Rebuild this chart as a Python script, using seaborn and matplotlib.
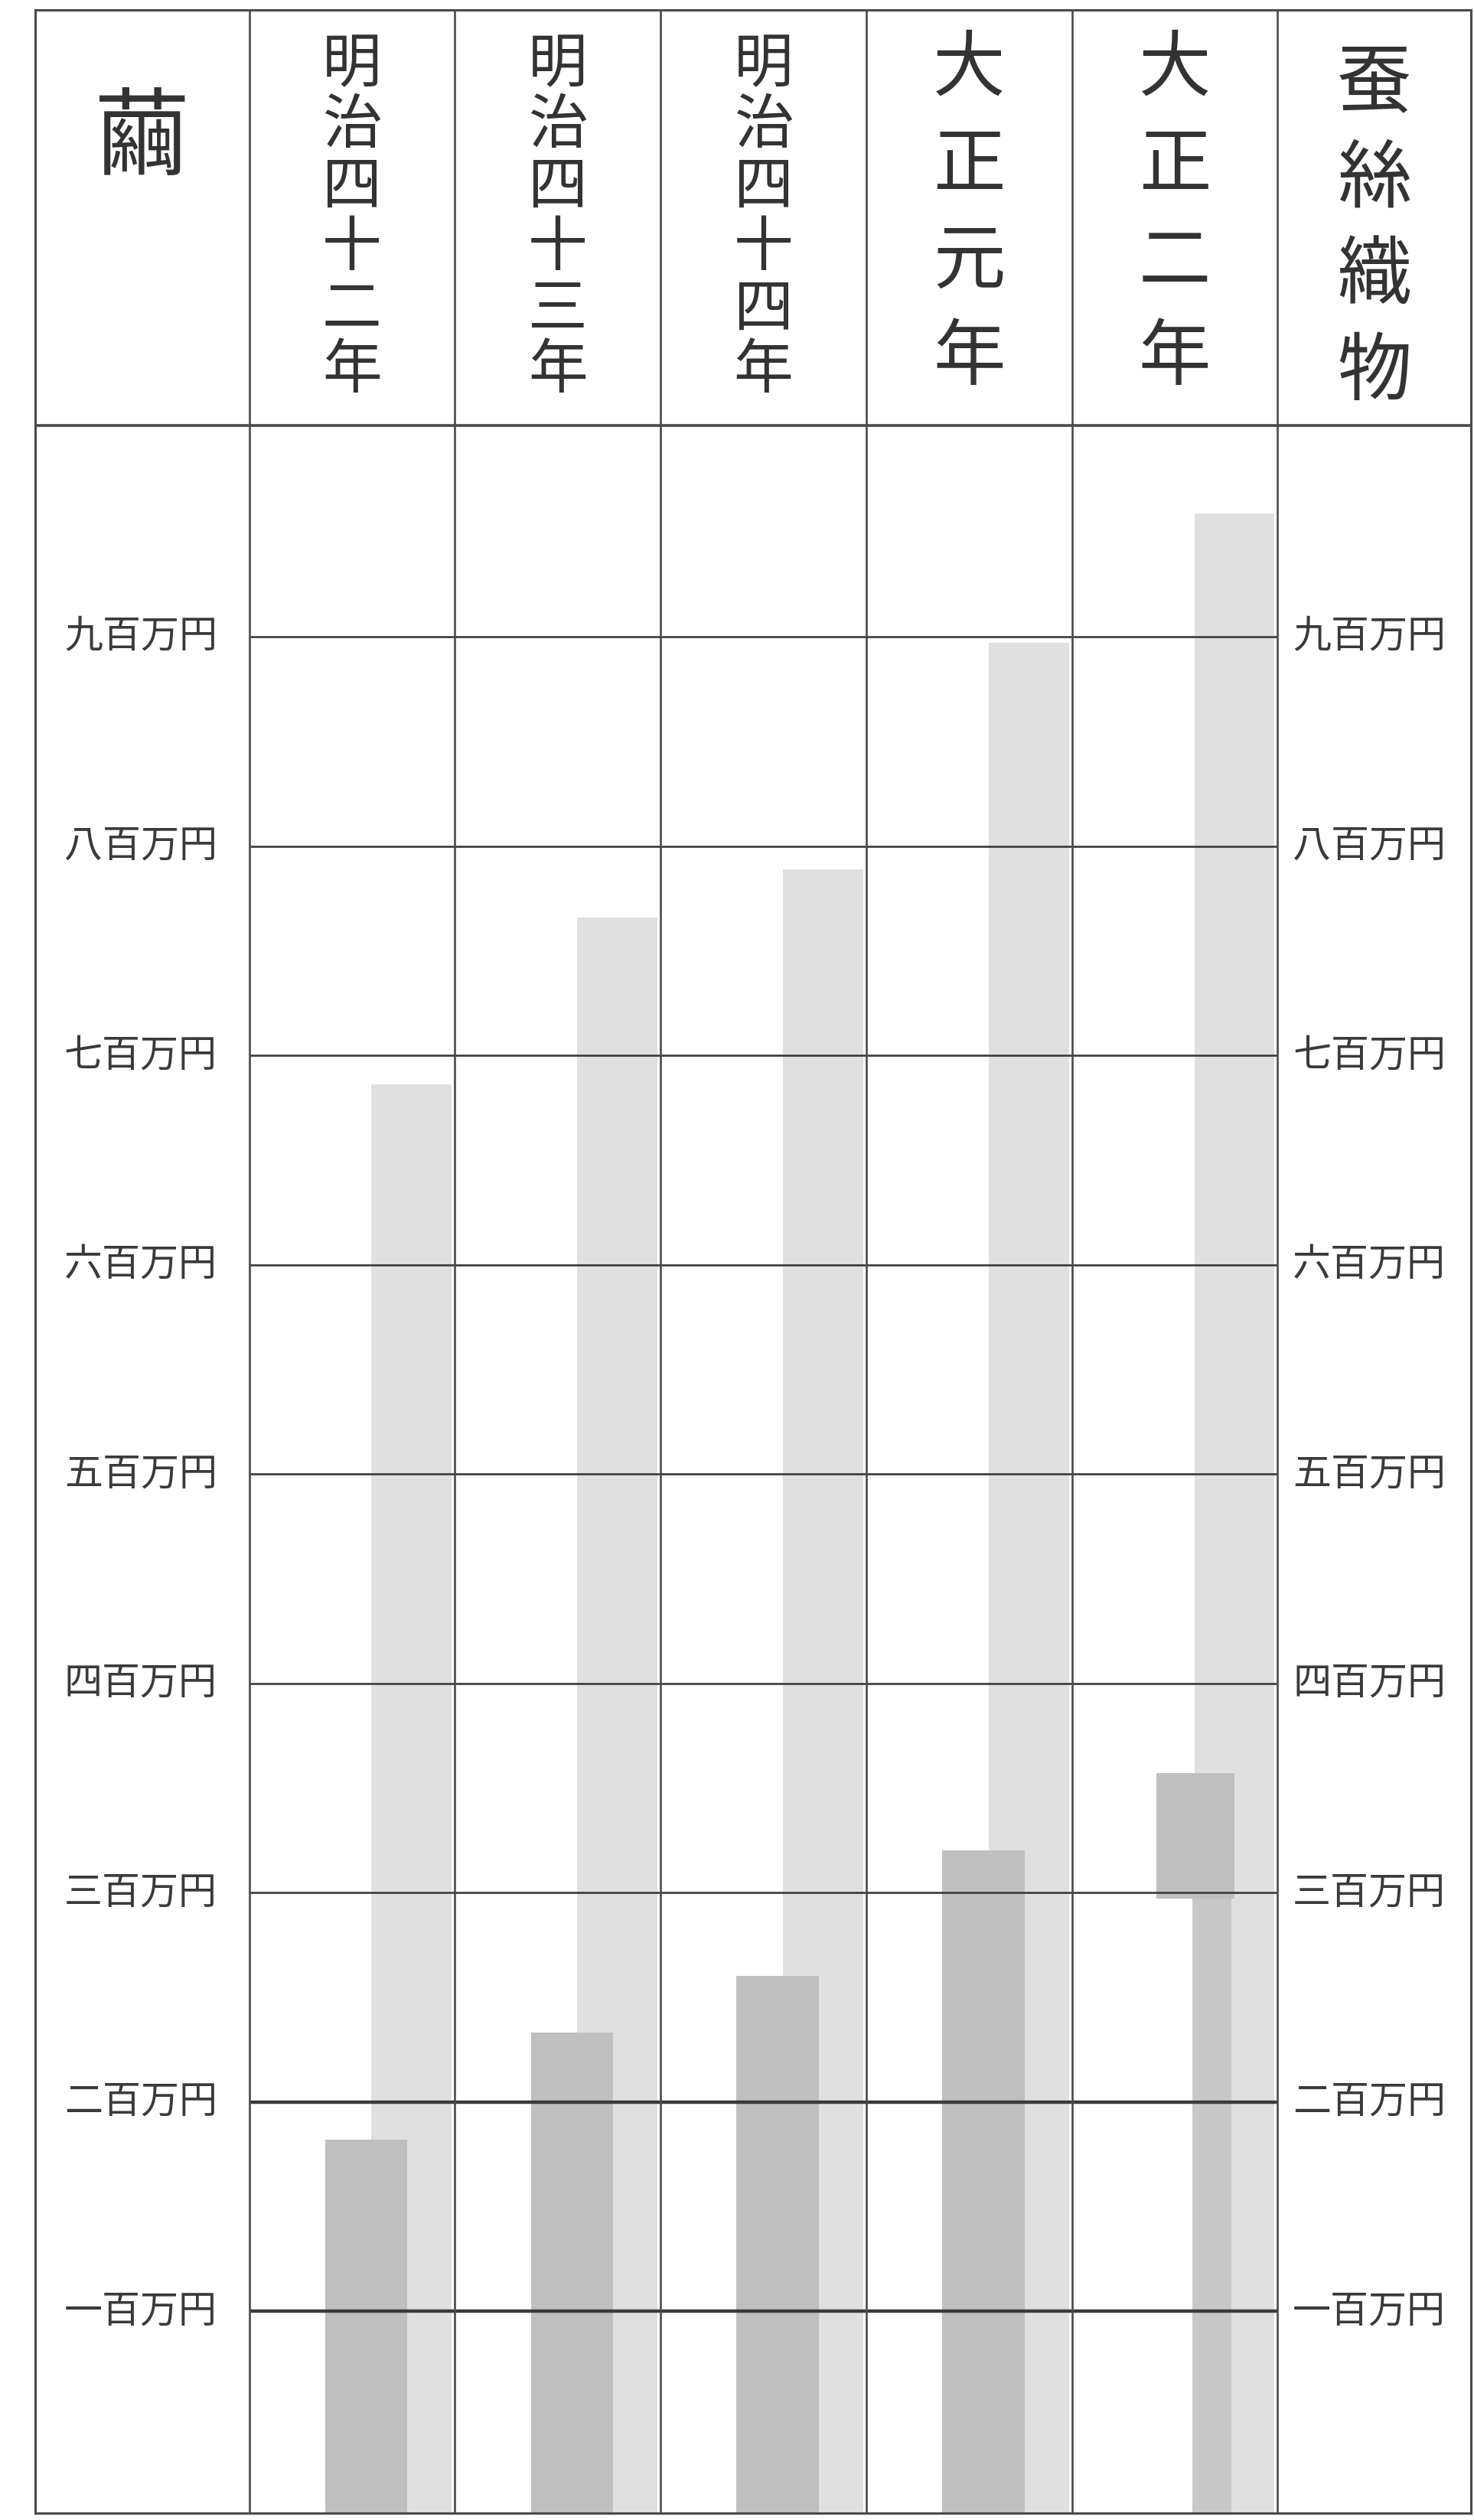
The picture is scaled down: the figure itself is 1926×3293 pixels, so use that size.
import numpy as np
import pandas as pd
import seaborn as sns
import matplotlib.pyplot as plt

sns.set_style("white")
plt.rcParams["font.family"] = ["Noto Sans CJK JP", "DejaVu Sans"]

# values in 万円 x 1 (axis in 百万円 steps of 100)
years = ["明治四十二年", "明治四十三年", "明治四十四年", "大正元年", "大正二年"]
silk = [686, 766, 789, 897, 959]          # 蚕絲織物 (light bars)
cocoon = [182, 233, 260, 320, 357]        # 繭 (dark bars)
# 大正二年: the top of the cocoon bar is printed off-register
cocoon_offset_from = 297

tick_vals = [100, 200, 300, 400, 500, 600, 700, 800, 900]
tick_labels = ["一百万円", "二百万円", "三百万円", "四百万円", "五百万円",
               "六百万円", "七百万円", "八百万円", "九百万円"]
left_title = "繭"
right_title = "蚕絲織物"

light = "#e0e0e0"
dark = "#bfbfbf"
ink = "#4a4a4a"

df = pd.DataFrame({"year": years, "silk": silk, "cocoon": cocoon})
df["pos"] = np.arange(len(df))

fig = plt.figure(figsize=(19.26, 32.93), dpi=100)
ax = fig.add_axes([46 / 1926, 9 / 3293, 1876 / 1926, 3271 / 3293])

XL, XR = -1.54, 5.44
YB, YT = 3.5, 1199.5
HEAD = 1001

# light bars (silk fabrics)
sns.barplot(x=df["pos"] + 0.29, y=df["silk"], native_scale=True, orient="x",
            width=0.39, color=light, saturation=1, errorbar=None,
            linewidth=0, ax=ax)
# dark bars (cocoons), first four years
d4 = df.iloc[:4]
sns.barplot(x=d4["pos"] + 0.07, y=d4["cocoon"], native_scale=True, orient="x",
            width=0.40, color=dark, saturation=1, errorbar=None,
            linewidth=0, ax=ax)
# last year: narrow lower part and shifted upper block
last = df.iloc[4]
sns.barplot(x=[last["pos"] + 0.18], y=[cocoon_offset_from], native_scale=True,
            orient="x", width=0.19, color="#c8c8c8", saturation=1, errorbar=None,
            linewidth=0, ax=ax)
sns.barplot(x=[last["pos"] + 0.10], y=[last["cocoon"] - cocoon_offset_from],
            bottom=cocoon_offset_from, native_scale=True, orient="x",
            width=0.38, color=dark, saturation=1, errorbar=None,
            linewidth=0, ax=ax)

ax.set_xlim(XL, XR)
ax.set_ylim(YB, YT)
ax.set_xticks([])
ax.set_yticks([])
ax.set_xlabel("")
ax.set_ylabel("")
for s in ax.spines.values():
    s.set_color(ink)
    s.set_linewidth(2.2)

# horizontal rules
for v in tick_vals:
    lw = 3.2 if v <= 200 else 1.9
    ax.hlines(v, -0.5, 4.5, color="#3a3a3a", lw=lw, zorder=3)
ax.hlines(HEAD, XL, XR, color=ink, lw=2.6, zorder=3)

# column rules
for b in np.arange(-0.5, 5, 1.0):
    ax.vlines(b, YB, YT, color=ink, lw=1.9, zorder=3)

# axis labels on both sides
for v, lab in zip(tick_vals, tick_labels):
    ax.text(-0.655, v, lab, ha="right", va="center", fontsize=36, color="#3a3a3a")
    ax.text(4.574, v, lab, ha="left", va="center", fontsize=36, color="#3a3a3a")

# header texts, written vertically
def vertical(x, text, y_top, y_bot, size):
    ys = np.linspace(y_top, y_bot, len(text)) if len(text) > 1 else [(y_top + y_bot) / 2]
    for ch, y in zip(text, ys):
        ax.text(x, y, ch, ha="center", va="center", fontsize=size, color="#333333")

vertical((XL - 0.5) / 2, left_title, 1137, 1137, 90)
for i, y in enumerate(years):
    if len(y) == 6:
        vertical(i, y, 1173, 1027, 56)
    else:
        vertical(i, y, 1171, 1033, 68)
vertical((4.5 + XR) / 2, right_title, 1164, 1026, 70)

fig.savefig("out.png", dpi=100)
